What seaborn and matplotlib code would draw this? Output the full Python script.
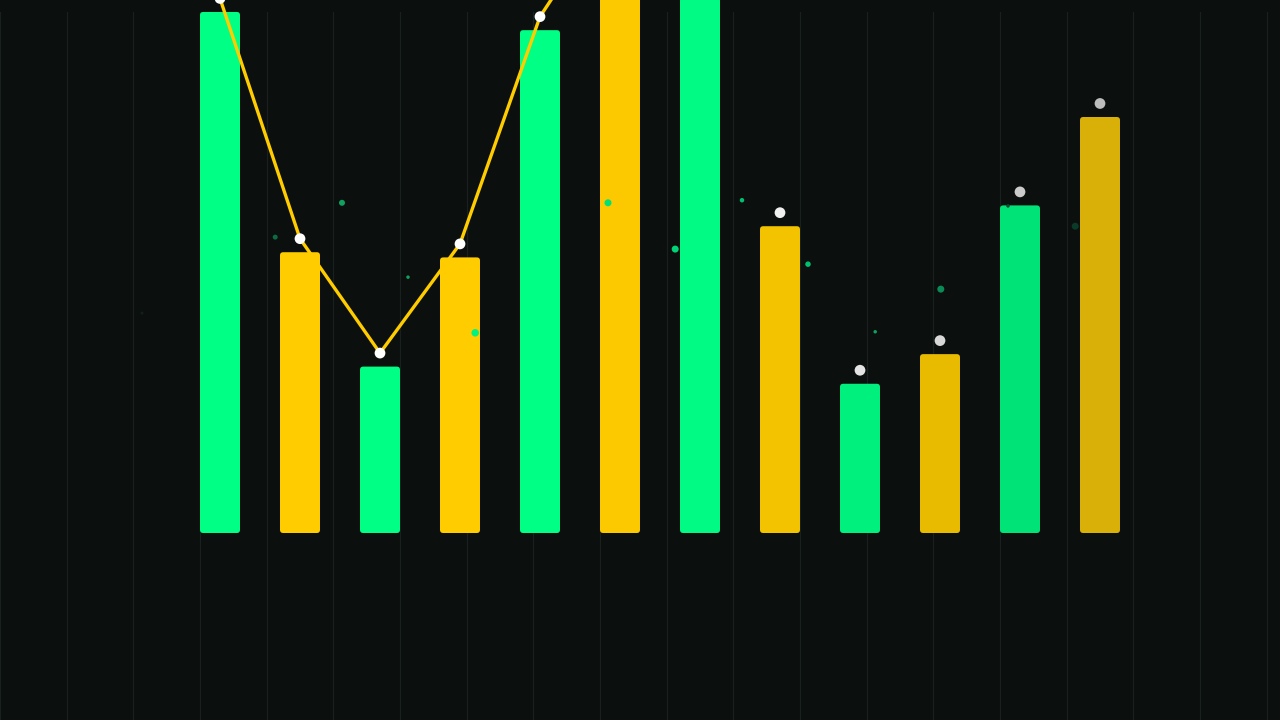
import numpy as np
import pandas as pd
import seaborn as sns
import matplotlib.pyplot as plt
from matplotlib.patches import FancyBboxPatch


# chart data
steps = list(range(12))
values = [100.2, 54, 32, 53, 96.7, 120, 103, 59, 28.7, 34.4, 63, 80]
bar_colors = ["#00ff85", "#ffcc00", "#00ff85", "#ffcc00", "#00ff85", "#fcc900",
              "#00fa83", "#f3c300", "#00f07d", "#e8bb00", "#00e377", "#d9b008"]
dot_colors = ["#ffffff", "#ffffff", "#ffffff", "#ffffff", "#ffffff", "#ffffff",
              "#f7f7f7", "#f0f0f0", "#e4e4e4", "#d8d8d8", "#cbcbcb", "#bdbdbd"]
line_reached = 7  # the line is only drawn through the first points

# small floating particles
spark_x = [-0.975, 0.69, 1.525, 2.35, 3.19, 4.85, 5.69, 6.525, 7.35, 8.19, 9.01, 9.85, 10.69]
spark_y = [42.3, 56.9, 63.5, 49.2, 38.5, 63.5, 54.6, 64.0, 51.7, 38.7, 46.9, 62.9, 59.0]
spark_d = [3, 5, 6, 3.5, 7.5, 7, 7, 4.5, 5.5, 3.5, 7, 3.5, 7]
spark_colors = ["#10201a", "#0d6a42", "#10a060", "#10a060", "#00f283", "#00e07a",
                "#00d477", "#00c070", "#00c070", "#10a060", "#0c8a55", "#0d4a33", "#0a3a28"]

BG = "#0b0f0e"
GRID = "#1a201f"
LINE = "#ffcc00"

sns.set_style("dark", {"axes.facecolor": BG, "figure.facecolor": BG})
fig = plt.figure(figsize=(12.8, 7.2), dpi=100)
ax = fig.add_axes([0, 0, 1, 1])
ax.set_facecolor(BG)

xlim = (-2.75, 13.25)
ylim = (-35.96, 102.5)

# background columns
grid_x = xlim[0] + np.arange(20) * (5 / 6)
for gx in grid_x:
    ax.axvline(gx, ymax=0.983, color=GRID, lw=0.9, zorder=0)

# bars
df = pd.DataFrame({"step": steps, "value": values})
sns.barplot(data=df, x="step", y="value", hue="step",
            palette=dict(zip(steps, bar_colors)), native_scale=True,
            width=0.5, saturation=1, legend=False, errorbar=None, ax=ax, zorder=2)

ax.set_xlim(*xlim)
ax.set_ylim(*ylim)

# swap the square bars for slightly rounded ones
aspect = (1280 / (xlim[1] - xlim[0])) / (720 / (ylim[1] - ylim[0]))
for bar in list(ax.patches):
    rounded = FancyBboxPatch((bar.get_x(), bar.get_y()), bar.get_width(), bar.get_height(),
                             boxstyle="round,pad=0,rounding_size=0.04",
                             mutation_aspect=aspect, fc=bar.get_facecolor(),
                             ec="none", zorder=2)
    bar.remove()
    ax.add_patch(rounded)

# markers sit a little above each bar
dot_y = [v + 2.6 for v in values]
sns.lineplot(x=steps[:line_reached], y=dot_y[:line_reached], color=LINE,
             linewidth=2.4, ax=ax, zorder=4)
sns.scatterplot(x=steps, y=dot_y, hue=steps, palette=dict(zip(steps, dot_colors)),
                s=60, linewidth=0, legend=False, ax=ax, zorder=5)

# particles
ax.scatter(spark_x, spark_y, s=[(d * 0.72) ** 2 for d in spark_d],
           c=spark_colors, linewidths=0, zorder=3)

ax.set_xlim(*xlim)
ax.set_ylim(*ylim)
ax.axis("off")

plt.savefig("out.png", dpi=100, facecolor=BG)
plt.close()
